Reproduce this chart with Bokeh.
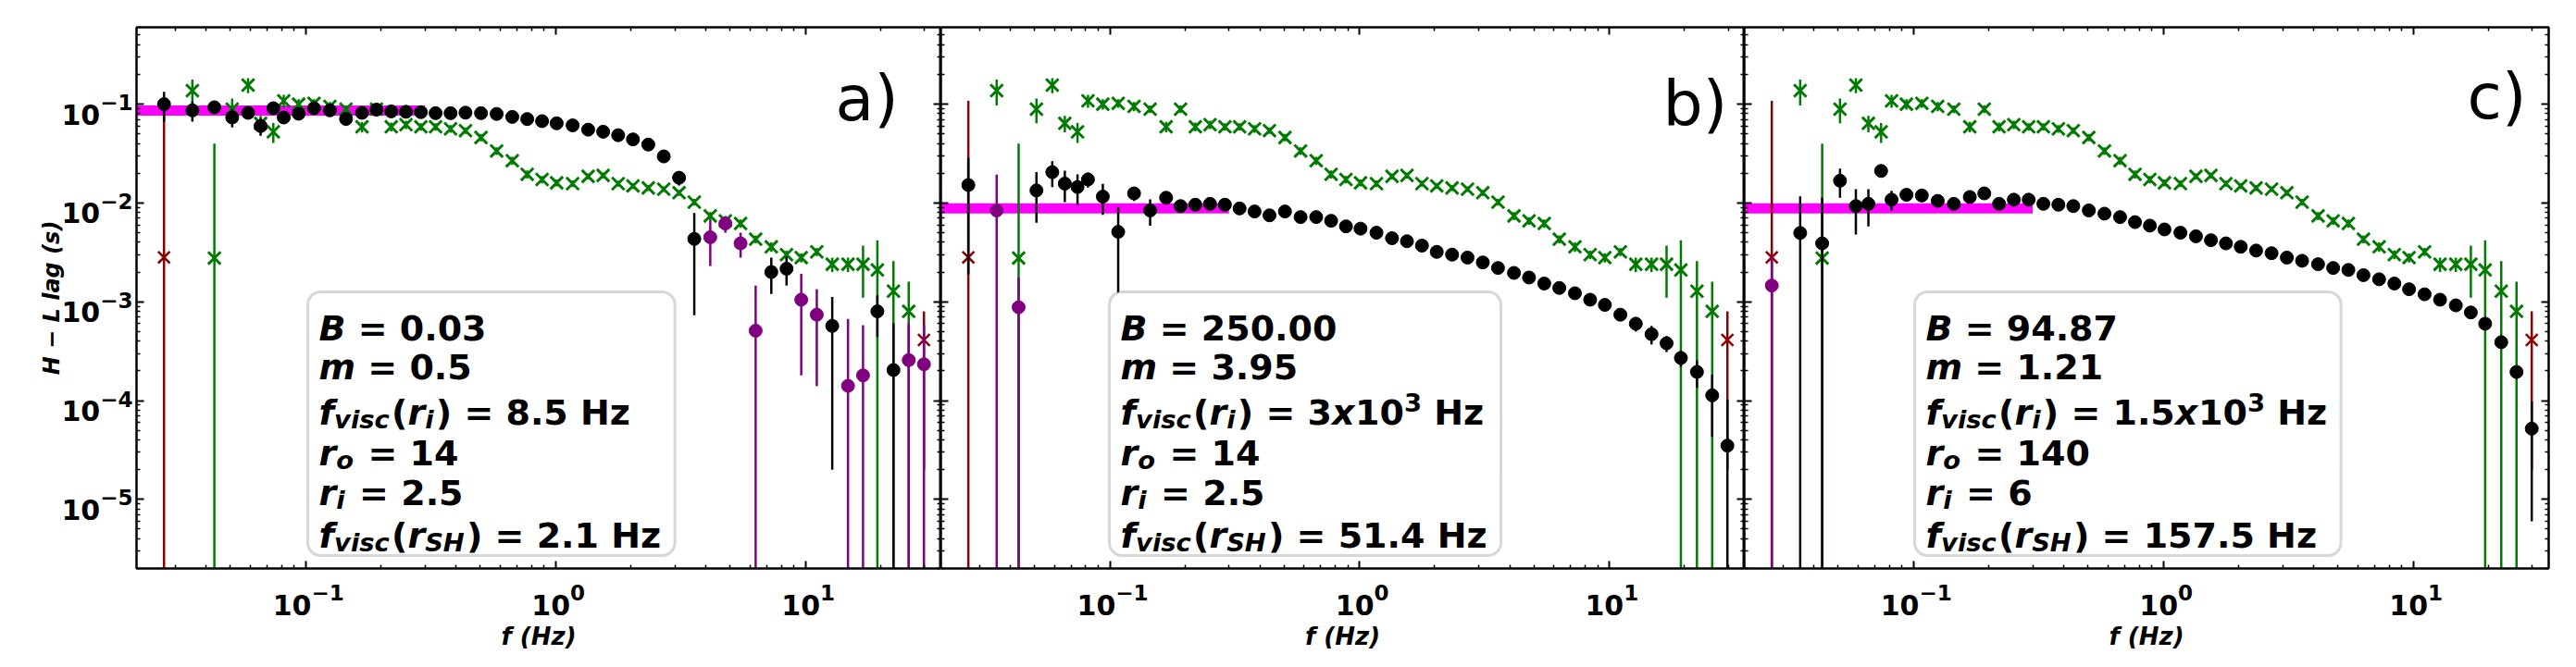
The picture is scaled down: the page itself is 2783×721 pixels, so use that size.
import numpy as np
from bokeh.plotting import figure
from bokeh.layouts import row, column
from bokeh.models import (FixedTicker, LogAxis, CustomJSTickFormatter, BoxAnnotation,
                          Label, ColumnDataSource, Range1d)
from bokeh.core.properties import value
from bokeh.embed import file_html
from bokeh.resources import INLINE

nan = float("nan")

# ---------------------------------------------------------------- data
freq = [0.0271, 0.0352, 0.0431, 0.0508, 0.0588, 0.0660, 0.0742, 0.0817, 0.0937, 0.108,
        0.125, 0.145, 0.168, 0.192, 0.220, 0.252, 0.289, 0.331, 0.380, 0.436,
        0.503, 0.581, 0.671, 0.770, 0.883, 1.01, 1.17, 1.35, 1.55, 1.78,
        2.04, 2.35, 2.71, 3.12, 3.59, 4.16, 4.78, 5.50, 6.32, 7.30,
        8.40, 9.62, 11.1, 12.8, 14.8, 17.0, 19.4, 22.5, 25.9, 29.8]

# observed H-L lags (same in every panel)
green_lag = [nan, 0.137, 0.00277, 0.089, 0.156, 0.064, 0.0525, 0.108, 0.100, 0.102,
             0.095, 0.089, 0.059, 0.089, 0.059, 0.062, 0.059, 0.059, 0.0563, 0.054,
             0.046, 0.0336, 0.0268, 0.0195, 0.0173, 0.0160, 0.0157, 0.0186, 0.0190, 0.0157,
             0.0149, 0.0142, 0.0138, 0.0127, 0.0102, 0.0074, 0.0066, 0.0062, 0.0043, 0.0036,
             0.0030, 0.0028, 0.0032, 0.0024, 0.0024, 0.0024, 0.0021, 0.00128, 0.0008, nan]
green_err = [nan, 0.040, 0.037, 0.025, 0.027, 0.012, 0.012, 0.016, 0.012, 0.010,
             0.010, 0.008, 0.007, 0.008, 0.006, 0.006, 0.005, 0.005, 0.005, 0.004,
             0.004, 0.003, 0.0025, 0.0018, 0.0015, 0.0013, 0.0012, 0.0013, 0.0013, 0.0011,
             0.0010, 0.0010, 0.0009, 0.0009, 0.0008, 0.0007, 0.0006, 0.0006, 0.0004, 0.0004,
             0.0003, 0.0003, 0.0003, 0.0004, 0.0004, 0.0013, 0.0021, 0.0013, 0.0008, nan]

red_freq = [0.0271, 29.8]
red_lag = [0.00282, 0.00041]
red_err = [0.105, 0.00039]

# model lags per panel; negative values are drawn in purple as |lag|
lag_a = [0.100, 0.0865, 0.093, 0.0733, 0.0817, 0.060, 0.091, 0.0733, 0.080, 0.091,
         0.0866, 0.0708, 0.0817, 0.088, 0.0845, 0.0837, 0.083, 0.081, 0.081, 0.082,
         0.081, 0.0796, 0.0743, 0.0707, 0.0673, 0.064, 0.061, 0.0552, 0.0526, 0.0485,
         0.044, 0.039, 0.0296, 0.018, 0.00433, -0.0045, -0.0062, -0.0039, -0.00051, 0.0020,
         0.00216, -0.00105, -0.00074, 0.00057, -0.000141, -0.00018, 0.0008, 0.000204, -0.000257, -0.000233]
err_a = [0.033, 0.02, 0.01, 0.015, 0.008, 0.012, 0.008, 0.006, 0.005, 0.004,
         0.004, 0.004, 0.003, 0.003, 0.002, 0.002, 0.002, 0.002, 0.002, 0.002,
         0.002, 0.002, 0.002, 0.002, 0.002, 0.002, 0.002, 0.002, 0.002, 0.002,
         0.002, 0.002, 0.002, 0.003, 0.0036, 0.0022, 0.0012, 0.0011, 0.00095, 0.0008,
         0.0007, 0.00087, 0.0006, 0.00055, 0.00053, 0.0004, 0.00036, 0.0004, 0.00035, 0.00035]

lag_b = [0.0152, -0.0084, -0.00088, 0.0134, 0.0205, 0.0157, 0.0145, 0.0173, 0.0116, 0.0051,
         0.0125, 0.0084, 0.0113, 0.0093, 0.0096, 0.0098, 0.0096, 0.0088, 0.0082, 0.0075,
         0.0082, 0.0072, 0.0072, 0.0066, 0.0058, 0.0055, 0.0050, 0.0044, 0.0041, 0.0037,
         0.0032, 0.0030, 0.0028, 0.0025, 0.0022, 0.00196, 0.00176, 0.00153, 0.00138, 0.00122,
         0.00105, 0.00093, 0.00074, 0.00060, 0.00047, 0.00038, 0.00027, 0.000195, 0.000113, 0.000035]
err_b = [0.0133, 0.011, 0.0009, 0.0071, 0.006, 0.0055, 0.005, 0.003, 0.004, 0.004,
         0.002, 0.0025, 0.001, 0.001, 0.0006, 0.0005, 0.0004, 0.0003, 0.0003, 0.0003,
         0.0003, 0.0002, 0.0002, 0.0002, 0.0002, 0.0002, 0.00015, 0.00015, 0.00015, 0.00012,
         0.0001, 0.0001, 0.0001, 0.0001, 0.0001, 0.00008, 0.00008, 0.00007, 0.00007, 0.00006,
         0.00006, 0.00006, 0.00008, 0.0001, 0.0001, 0.00007, 0.00005, 0.00006, 0.00007, 0.000067]

lag_c = [-0.00146, 0.00497, 0.0039, 0.0168, 0.0093, 0.0098, 0.0211, 0.0108, 0.0121, 0.0119,
         0.0105, 0.0098, 0.0115, 0.0125, 0.0098, 0.0108, 0.0108, 0.0098, 0.0096, 0.0093,
         0.0084, 0.0078, 0.0072, 0.0064, 0.0059, 0.0054, 0.0050, 0.0046, 0.0042, 0.0039,
         0.0036, 0.0033, 0.0031, 0.0028, 0.0026, 0.0024, 0.0022, 0.0021, 0.00186, 0.00169,
         0.00153, 0.00134, 0.00119, 0.00105, 0.00092, 0.00078, 0.00060, 0.00039, 0.000195, 0.000052]
err_c = [0.0015, 0.0067, 0.0074, 0.0055, 0.0045, 0.004, 0.002, 0.0025, 0.0015, 0.001,
         0.0008, 0.001, 0.0006, 0.0005, 0.0004, 0.0004, 0.0003, 0.0003, 0.0003, 0.0003,
         0.0002, 0.0002, 0.0002, 0.0002, 0.0002, 0.00015, 0.00015, 0.00015, 0.00012, 0.00012,
         0.0001, 0.0001, 0.0001, 0.0001, 0.00008, 0.00008, 0.00007, 0.00007, 0.00006, 0.00006,
         0.00005, 0.00005, 0.00005, 0.00005, 0.00005, 0.00004, 0.00004, 0.00005, 0.00003, 0.000046]

# low-frequency plateau level of each model
band_level = [0.086, 0.0088, 0.0088]
band_fmin = 0.01
band_fmax = 0.3

panel_tags = ["a)", "b)", "c)"]
x_label = "f (Hz)"
y_label = "H \u2212 L lag (s)"
x_tick_exps = [-1, 0, 1]
y_tick_exps = [-5, -4, -3, -2, -1]

# parameter boxes: (text, kind) runs
params = [
    [[("B", "it"), (" = 0.03", "rm")],
     [("m", "it"), (" = 0.5", "rm")],
     [("f", "it"), ("visc", "sub"), ("(", "rm"), ("r", "it"), ("i", "sub"), (")", "rm"), (" = 8.5 Hz", "rm")],
     [("r", "it"), ("o", "sub"), (" = 14", "rm")],
     [("r", "it"), ("i", "sub"), (" = 2.5", "rm")],
     [("f", "it"), ("visc", "sub"), ("(", "rm"), ("r", "it"), ("SH", "sub"), (")", "rm"), (" = 2.1 Hz", "rm")]],
    [[("B", "it"), (" = 250.00", "rm")],
     [("m", "it"), (" = 3.95", "rm")],
     [("f", "it"), ("visc", "sub"), ("(", "rm"), ("r", "it"), ("i", "sub"), (")", "rm"), (" = 3", "rm"),
      ("x", "it"), ("10", "rm"), ("3", "sup"), (" Hz", "rm")],
     [("r", "it"), ("o", "sub"), (" = 14", "rm")],
     [("r", "it"), ("i", "sub"), (" = 2.5", "rm")],
     [("f", "it"), ("visc", "sub"), ("(", "rm"), ("r", "it"), ("SH", "sub"), (")", "rm"), (" = 51.4 Hz", "rm")]],
    [[("B", "it"), (" = 94.87", "rm")],
     [("m", "it"), (" = 1.21", "rm")],
     [("f", "it"), ("visc", "sub"), ("(", "rm"), ("r", "it"), ("i", "sub"), (")", "rm"), (" = 1.5", "rm"),
      ("x", "it"), ("10", "rm"), ("3", "sup"), (" Hz", "rm")],
     [("r", "it"), ("o", "sub"), (" = 140", "rm")],
     [("r", "it"), ("i", "sub"), (" = 6", "rm")],
     [("f", "it"), ("visc", "sub"), ("(", "rm"), ("r", "it"), ("SH", "sub"), (")", "rm"), (" = 157.5 Hz", "rm")]],
]

# ---------------------------------------------------------------- layout
W_TOTAL, H_TOTAL = 2783, 721
LX0, LX1 = -1.677, 1.542          # log10 of x limits
LY0, LY1 = -5.699, -0.222         # log10 of y limits
TOP, FRAME_H = 29, 585
PAD = 2                           # room for the spines at the outer frame edges
LEFT, RIGHT = 147, 30
FRAME_W = [869, 868, 869]
PANEL_X0 = [LEFT, LEFT + FRAME_W[0], LEFT + FRAME_W[0] + FRAME_W[1]]
STRIP_TOP = TOP + FRAME_H + PAD

FONT = "DejaVu Sans"
F = 38                       # box font size, px
SUB = 0.72                   # sub/superscript scale
TEXT_LEFT = [344, 1210, 2080]
BASELINES = [354, 396, 445, 489, 532, 578]
BOX_TOP, BOX_BOTTOM = 315, 600
TAG_POS = [(902, 106), (1796, 112), (2665, 104)]
TICK_BASE, TICK_EXP = 30, 23     # tick label sizes (mantissa / exponent), px
X_LABEL_FS, Y_LABEL_FS = 26, 24

ADV = {' ': 0.348, '.': 0.380, '=': 0.838, '(': 0.457, ')': 0.457, 'B': 0.762, 'H': 0.837,
       'S': 0.720, 'c': 0.593, 'f': 0.435, 'i': 0.343, 'm': 1.042, 'o': 0.687, 'r': 0.493,
       's': 0.595, 'v': 0.652, 'x': 0.663, 'z': 0.582, '\u2212': 0.838}
for d in "0123456789":
    ADV[d] = 0.696


def x_at(panel, px):
    frac = (px - PANEL_X0[panel]) / FRAME_W[panel]
    return 10 ** (LX0 + frac * (LX1 - LX0))


def y_at(py):
    frac = (py - TOP) / FRAME_H
    return 10 ** (LY1 - frac * (LY1 - LY0))


def px_of_x(panel, k):
    return PANEL_X0[panel] + (k - LX0) / (LX1 - LX0) * FRAME_W[panel]


def py_of_y(k):
    return TOP + (LY1 - k) / (LY1 - LY0) * FRAME_H


def text_width(s, size):
    return sum(ADV.get(ch, 0.6) for ch in s) * size


def exp_text(k):
    return ("\u2212" + str(-k)) if k < 0 else str(k)


major = [10.0 ** k for k in range(-7, 3)]
minor = [m * 10.0 ** k for k in range(-7, 3) for m in range(2, 10)]


def style_axis(ax):
    ax.ticker = FixedTicker(ticks=major, minor_ticks=minor)
    ax.formatter = CustomJSTickFormatter(code="return ''")
    ax.major_label_standoff = 0
    ax.major_label_text_font_size = "0px"
    ax.major_tick_in = 8
    ax.major_tick_out = 0
    ax.minor_tick_in = 4
    ax.minor_tick_out = 0
    ax.major_tick_line_width = 2
    ax.minor_tick_line_width = 1.5
    ax.axis_line_width = 2
    ax.axis_label = None


def add_text(p, x, y, text, size, style="bold", align="left", angle=0.0):
    p.add_layout(Label(x=x, y=y, text=text, text_font=FONT, text_font_size=f"{size}px",
                       text_font_style=style, text_color="black", text_align=align,
                       text_baseline="alphabetic", angle=angle))


def strip(width, height, x_range, y_range, x_type="linear", y_type="linear"):
    s = figure(frame_width=width, frame_height=height, x_range=x_range, y_range=y_range,
               x_axis_type=x_type, y_axis_type=y_type,
               x_axis_location=None, y_axis_location=None, min_border=0,
               output_backend="svg", toolbar_location=None,
               background_fill_color="white", border_fill_color="white")
    s.outline_line_color = None
    s.grid.visible = False
    return s


f_arr = np.array(freq)
RED, GREEN, PURPLE, MAGENTA = "#8b0000", "#007a00", "#800080", "#ff00ff"
floor = 10 ** (LY0 - 3)


def errorbars(p, x, v, e, color):
    x, v, e = map(np.asarray, (x, v, e))
    lo = np.where(v - e > 0, v - e, floor)
    p.segment(x0=x, y0=lo, x1=x, y1=v + e, line_color=color, line_width=2.5)


panels, bottoms = [], []
for i, (lag, err) in enumerate([(lag_a, err_a), (lag_b, err_b), (lag_c, err_c)]):
    p = figure(x_axis_type="log", y_axis_type="log",
               x_range=Range1d(10 ** LX0, 10 ** LX1), y_range=Range1d(10 ** LY0, 10 ** LY1),
               frame_width=FRAME_W[i], frame_height=FRAME_H,
               min_border_left=PAD if i == 0 else 0,
               min_border_right=RIGHT if i == 2 else 0,
               min_border_top=TOP, min_border_bottom=PAD,
               output_backend="svg", toolbar_location=None,
               background_fill_color="white", border_fill_color="white")
    p.grid.visible = False
    p.outline_line_color = "black"
    p.outline_line_width = 2

    style_axis(p.xaxis[0])
    style_axis(p.yaxis[0])
    top_ax = LogAxis()
    style_axis(top_ax)
    p.add_layout(top_ax, "above")
    right_ax = LogAxis()
    style_axis(right_ax)
    p.add_layout(right_ax, "right")

    # low-frequency plateau
    p.line([band_fmin, band_fmax], [band_level[i], band_level[i]],
           line_color=MAGENTA, line_width=11)

    # red points
    errorbars(p, red_freq, red_lag, red_err, RED)
    p.scatter(red_freq, red_lag, marker="x", size=18, line_color=RED, line_width=2.5)

    # green points
    g = ~np.isnan(np.array(green_lag))
    gx, gv, ge = f_arr[g], np.array(green_lag)[g], np.array(green_err)[g]
    errorbars(p, gx, gv, ge, GREEN)
    p.scatter(gx, gv, marker="x", size=19, line_color=GREEN, line_width=3)

    # model lags
    lv, le = np.array(lag), np.array(err)
    pos = lv > 0
    errorbars(p, f_arr[pos], lv[pos], le[pos], "black")
    p.scatter(f_arr[pos], lv[pos], marker="circle", size=14, fill_color="black", line_color="black")
    neg = lv < 0
    errorbars(p, f_arr[neg], -lv[neg], le[neg], PURPLE)
    p.scatter(f_arr[neg], -lv[neg], marker="circle", size=14, fill_color=PURPLE, line_color=PURPLE)

    # parameter box
    xs, ys, txt, styles, sizes = [], [], [], [], []
    max_w = 0
    for li, line in enumerate(params[i]):
        cx = 0.0
        for s, kind in line:
            size = F * SUB if kind in ("sub", "sup") else F
            dy = 0.2 * F if kind == "sub" else (-0.27 * F if kind == "sup" else 0)
            stripped = s.lstrip(" ")
            cx += text_width(s[:len(s) - len(stripped)], size)
            xs.append(x_at(i, TEXT_LEFT[i] + cx))
            ys.append(y_at(BASELINES[li] + dy))
            txt.append(stripped)
            styles.append("bold" if kind in ("rm", "sup") else "bold italic")
            sizes.append(f"{size:.1f}px")
            cx += text_width(stripped, size)
            if kind == "sub":
                cx += 0.06 * F
        max_w = max(max_w, cx)
    box = BoxAnnotation(left=x_at(i, TEXT_LEFT[i] - 12), right=x_at(i, TEXT_LEFT[i] + max_w + 15),
                        top=y_at(BOX_TOP), bottom=y_at(BOX_BOTTOM),
                        fill_color="white", fill_alpha=1.0, line_color="#7a7a7a",
                        line_width=3, border_radius=14)
    p.add_layout(box)
    src = ColumnDataSource(dict(x=xs, y=ys, text=txt, style=styles, size=sizes))
    p.text(x="x", y="y", text="text", source=src, text_font=value(FONT),
           text_font_style="style", text_font_size="size", text_color="black",
           text_baseline="alphabetic", text_align="left", level="overlay")

    tx, ty = TAG_POS[i]
    p.add_layout(Label(x=x_at(i, tx), y=y_at(ty), text=panel_tags[i], text_font=FONT,
                       text_font_size="68px", text_color="black",
                       text_baseline="alphabetic", text_align="left"))
    panels.append(p)

    # strip below the panel: x tick labels and the x axis title
    sx0 = PANEL_X0[i] - (PAD if i == 0 else 0)
    sx1 = PANEL_X0[i] + FRAME_W[i] + (RIGHT if i == 2 else 0)
    b = strip(int(sx1 - sx0), H_TOTAL - STRIP_TOP,
              Range1d(x_at(i, sx0), x_at(i, sx1)), Range1d(H_TOTAL, STRIP_TOP), x_type="log")
    base_w = text_width("10", TICK_BASE)
    for k in x_tick_exps:
        e = exp_text(k)
        exp_w = text_width(e, TICK_EXP)
        left = px_of_x(i, k) + 3 - (base_w + exp_w) / 2
        add_text(b, x_at(i, left), 653, "10", TICK_BASE)
        add_text(b, x_at(i, left + base_w), 640, e, TICK_EXP)
    add_text(b, x_at(i, PANEL_X0[i] + FRAME_W[i] / 2), 687, x_label, X_LABEL_FS,
             style="bold italic", align="center")
    bottoms.append(b)

# strip left of the first panel: y tick labels and the y axis title
lw = LEFT - PAD
ls = strip(lw, H_TOTAL, Range1d(0, lw), Range1d(y_at(H_TOTAL), y_at(0)), y_type="log")
for k in y_tick_exps:
    e = exp_text(k)
    exp_w = text_width(e, TICK_EXP)
    right = LEFT - 4
    base_line = py_of_y(k) + 11
    add_text(ls, right - exp_w, y_at(base_line), "10", TICK_BASE, align="right")
    add_text(ls, right, y_at(base_line - 13), e, TICK_EXP, align="right")
add_text(ls, 55, y_at(TOP + FRAME_H / 2), y_label, Y_LABEL_FS,
         style="bold italic", align="center", angle=np.pi / 2)

layout = row(ls, column(row(*panels, spacing=0), row(*bottoms, spacing=0), spacing=0), spacing=0)
open("out.html", "w").write(file_html(layout, INLINE))
